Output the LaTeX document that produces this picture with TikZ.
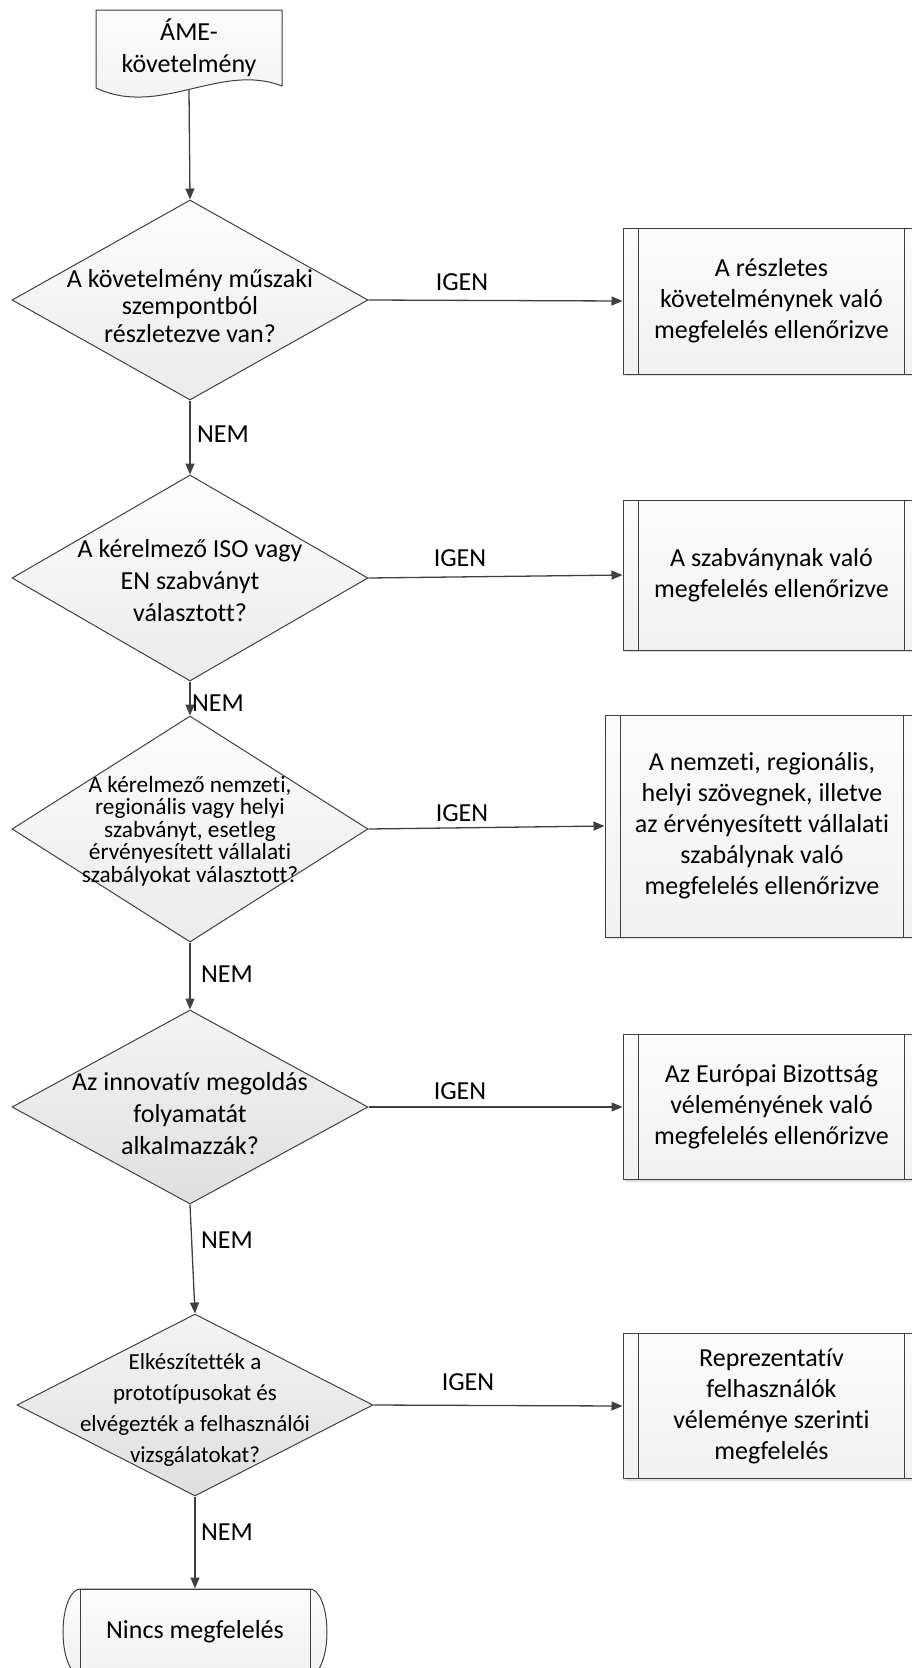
\documentclass[tikz,border=0pt]{standalone}
\usepackage{fontspec}
\setmainfont{Carlito}[Ligatures={NoCommon,NoContextual},Contextuals=NoAlternate]
\usetikzlibrary{arrows.meta,shapes.geometric,shadows}

\definecolor{linegray}{RGB}{64,64,64}

\tikzset{
  flowline/.style={draw=linegray, line width=1.3pt},
  flowarrow/.style={flowline, -{Triangle[length=11pt,width=9pt]}},
  decision/.style={diamond, draw=linegray, line width=1pt, inner sep=0pt,
    top color=gray!2, bottom color=gray!16},
  decisiondark/.style={decision, top color=gray!9, bottom color=gray!25},
  qtext/.style={align=center, font=\fontsize{26}{32}\selectfont},
  predef/.style={rectangle, draw=linegray, line width=1pt, inner sep=0pt,
    top color=gray!3, bottom color=gray!11, align=center,
    font=\fontsize{26}{31}\selectfont,
    drop shadow={shadow xshift=2pt, shadow yshift=-2pt, opacity=0.25}},
  lbl/.style={font=\fontsize{26}{32}\selectfont}
}

\begin{document}
\begin{tikzpicture}[x=1pt,y=-1pt]

  \useasboundingbox (0,0) rectangle (912,1668);
  \clip (0,0) rectangle (912,1668);

  % Start document
  \draw[draw=linegray, line width=1pt, top color=gray!3, bottom color=gray!11]
    (96,10) -- (282,10) -- (282,86)
    .. controls (220,62) and (160,118) .. (96,88) -- cycle;
  \node[qtext] (ame) at (189,48) {ÁME-\\követelmény};
  \coordinate (ameout) at (189,89);

  % Decisions
  \node[decision, minimum width=356pt, minimum height=200pt] (q1) at (190,300) {};
  \node[decision, minimum width=356pt, minimum height=206pt] (q2) at (190,578) {};
  \node[decision, minimum width=356pt, minimum height=226pt] (q3) at (190,829) {};
  \node[decisiondark, minimum width=356pt, minimum height=194pt] (q4) at (190,1107) {};
  \node[decisiondark, minimum width=356pt, minimum height=182pt] (q5) at (195,1405) {};

  \node[qtext, font=\fontsize{26}{27.5}\selectfont] (q1t) at (190,306)
    {A követelmény műszaki\\szempontból\\részletezve van?};
  \node[qtext] (q2t) at (190,581) {A kérelmező ISO vagy\\EN szabványt\\választott?};
  \node[qtext, font=\fontsize{23.3}{22.5}\selectfont] (q3t) at (190,831)
    {A kérelmező nemzeti,\\regionális vagy helyi\\szabványt, esetleg\\érvényesített vállalati\\szabályokat választott?};
  \node[qtext] (q4t) at (190,1114) {Az innovatív megoldás\\folyamatát\\alkalmazzák?};
  \node[qtext, font=\fontsize{23}{31}\selectfont] (q5t) at (195,1410)
    {Elkészítették a\\prototípusokat és\\elvégezték a felhasználói\\vizsgálatokat?};

  % Results
  \node[predef, minimum width=297pt, minimum height=146pt] (det) at (771.5,301)
    {A részletes\\követelménynek való\\megfelelés ellenőrizve};
  \node[predef, minimum width=297pt, minimum height=150pt] (std) at (771.5,575)
    {A szabványnak való\\megfelelés ellenőrizve};
  \node[predef, minimum width=314pt, minimum height=222pt] (nat) at (762,826)
    {A nemzeti, regionális,\\helyi szövegnek, illetve\\az érvényesített vállalati\\szabálynak való\\megfelelés ellenőrizve};
  \node[predef, minimum width=297pt, minimum height=145pt] (inn) at (771.5,1107)
    {Az Európai Bizottság\\véleményének való\\megfelelés ellenőrizve};
  \node[predef, minimum width=297pt, minimum height=145pt] (rep) at (771.5,1406)
    {Reprezentatív\\felhasználók\\véleménye szerinti\\megfelelés};

  \foreach \n in {det,std,nat,inn,rep}
    \draw[draw=linegray, line width=1pt]
      ([xshift=16pt]\n.north west) -- ([xshift=16pt]\n.south west)
      ([xshift=-16pt]\n.north east) -- ([xshift=-16pt]\n.south east);

  % End terminal
  \draw[draw=linegray, line width=1pt, top color=gray!3, bottom color=gray!11]
    (80,1589) -- (310,1589)
    arc[start angle=-90, end angle=90, x radius=17, y radius=43]
    -- (80,1675)
    arc[start angle=90, end angle=270, x radius=17, y radius=43] -- cycle;
  \node[rectangle, draw=linegray, line width=1pt, minimum width=230pt,
    minimum height=86pt, font=\fontsize{26}{32}\selectfont] (none) at (195,1632)
    {Nincs megfelelés};

  % Connectors
  \draw[flowarrow] (ameout) -- (q1.north);
  \draw[flowarrow] (q1.south) -- (q2.north);
  \draw[flowarrow] (q2.south) -- (q3.north);
  \draw[flowarrow] (q3.south) -- (q4.north);
  \draw[flowarrow] (q4.south) -- (q5.north);
  \draw[flowarrow] (q5.south) -- (none.north);

  \draw[flowarrow] (q1.east) -- (det.west);
  \draw[flowarrow] (q2.east) -- (std.west);
  \draw[flowarrow] (q3.east) -- (nat.west);
  \draw[flowarrow] (q4.east) -- (inn.west);
  \draw[flowarrow] (q5.east) -- (rep.west);

  % Labels
  \node[lbl] (yes1) at (462,282) {IGEN};
  \node[lbl] (yes2) at (460,558) {IGEN};
  \node[lbl] (yes3) at (462,813) {IGEN};
  \node[lbl] (yes4) at (460,1091) {IGEN};
  \node[lbl] (yes5) at (468,1382) {IGEN};

  \node[lbl] (no1) at (223,434) {NEM};
  \node[lbl] (no2) at (218,703) {NEM};
  \node[lbl] (no3) at (227,974) {NEM};
  \node[lbl] (no4) at (227,1240) {NEM};
  \node[lbl] (no5) at (227,1532) {NEM};

\end{tikzpicture}
\end{document}
